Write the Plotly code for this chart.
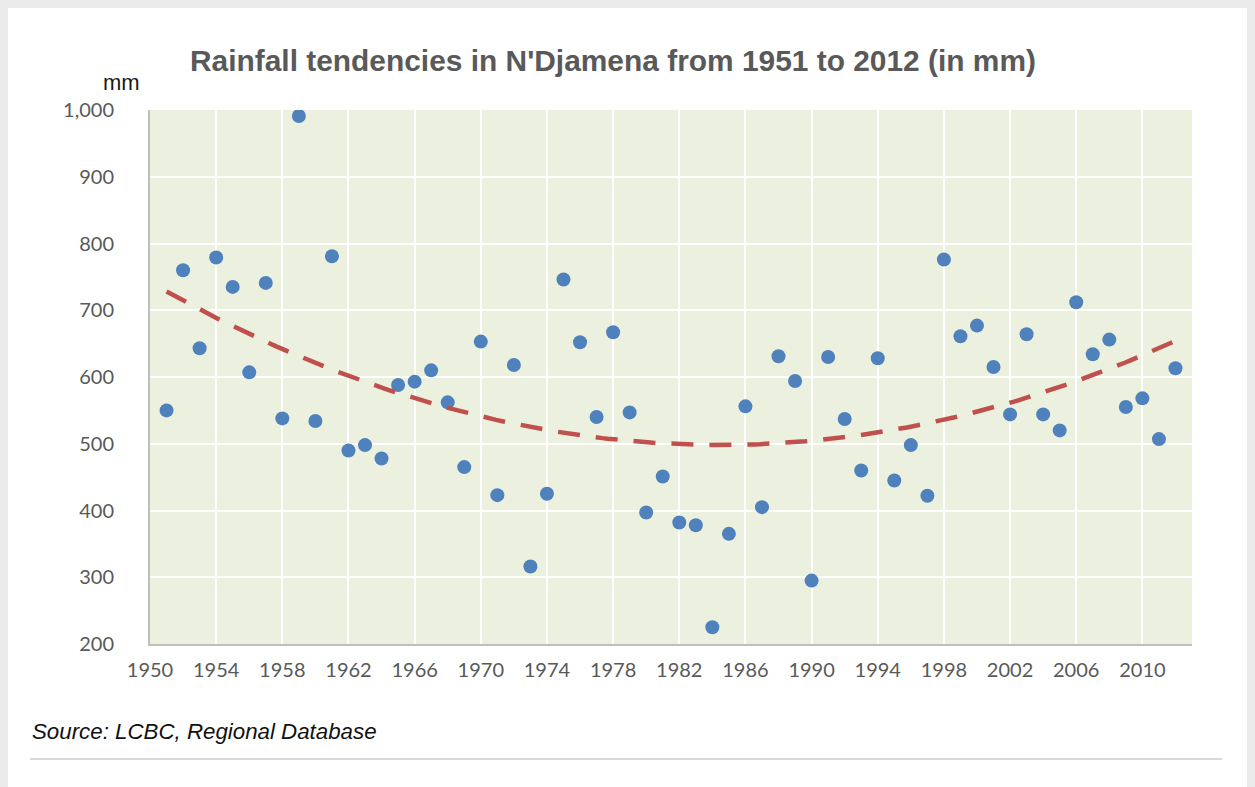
import numpy as np
import plotly.graph_objects as go

# Annual rainfall at N'Djamena (mm)
years = list(range(1951, 2013))
rainfall_mm = [
    550, 760, 643, 779, 735, 607, 741, 538, 991, 534,   # 1951-1960
    781, 490, 498, 478, 588, 593, 610, 562, 465, 653,   # 1961-1970
    423, 618, 316, 425, 746, 652, 540, 667, 547, 397,   # 1971-1980
    451, 382, 378, 225, 365, 556, 405, 631, 594, 295,   # 1981-1990
    630, 537, 460, 628, 445, 498, 422, 776, 661, 677,   # 1991-2000
    615, 544, 664, 544, 520, 712, 634, 656, 555, 568,   # 2001-2010
    507, 613,                                           # 2011-2012
]

x_tick_years = list(range(1950, 2011, 4))
y_ticks = list(range(200, 1001, 100))

title_text = "Rainfall tendencies in N'Djamena from 1951 to 2012 (in mm)"
unit_text = "mm"
source_text = "Source: LCBC, Regional Database"

# Second-order polynomial trend fitted to the annual series
coef = np.polyfit(years, rainfall_mm, 2)
trend_x = np.linspace(years[0], years[-1], 200)
trend_y = np.polyval(coef, trend_x)

W, H = 1255, 787
L, R, T, B = 150, 63, 110, 143
pw, ph = W - L - R, H - T - B


def px(X):
    return (X - L) / pw


def py(Y):
    return (H - B - Y) / ph


fig = go.Figure()

fig.add_trace(go.Scatter(
    x=years, y=rainfall_mm, mode="markers",
    marker=dict(color="#4f81bd", size=14, line=dict(width=0)),
    showlegend=False, hoverinfo="x+y",
))

fig.add_trace(go.Scatter(
    x=trend_x, y=trend_y, mode="lines",
    line=dict(color="#c0504d", width=4.5, dash="22px,16px"),
    showlegend=False, hoverinfo="skip",
))

shapes = [
    # white card on grey page
    dict(type="rect", xref="paper", yref="paper",
         x0=px(8), x1=px(1247), y0=py(800), y1=py(8),
         fillcolor="white", line=dict(width=0), layer="below"),
    # plot area fill
    dict(type="rect", xref="paper", yref="paper",
         x0=0, x1=1, y0=0, y1=1,
         fillcolor="#ebf1de", line=dict(width=0), layer="below"),
    # separator rule under the source note
    dict(type="line", xref="paper", yref="paper",
         x0=px(30), x1=px(1222), y0=py(759), y1=py(759),
         line=dict(color="#d9d9d9", width=2)),
]

annotations = [
    dict(text=f"<b>{title_text}</b>", xref="paper", yref="paper",
         x=px(612.5), y=py(60), xanchor="center", yanchor="middle",
         showarrow=False,
         font=dict(family="Liberation Sans, Arial, sans-serif", size=29.9, color="#595959")),
    dict(text=unit_text, xref="paper", yref="paper",
         x=px(121), y=py(82), xanchor="center", yanchor="middle",
         showarrow=False,
         font=dict(family="Liberation Sans, Arial, sans-serif", size=22, color="#1a1a1a")),
    dict(text=f"<i>{source_text}</i>", xref="paper", yref="paper",
         x=px(30), y=py(731), xanchor="left", yanchor="middle",
         showarrow=False,
         font=dict(family="Liberation Sans, Arial, sans-serif", size=22.3, color="#111111")),
]

tick_font = dict(family="Lato, sans-serif", size=20, color="#595959")

fig.update_layout(
    width=W, height=H,
    margin=dict(l=L, r=R, t=T, b=B),
    paper_bgcolor="#ebebeb",
    plot_bgcolor="rgba(0,0,0,0)",
    shapes=shapes,
    annotations=annotations,
    xaxis=dict(
        range=[1950, 2013], tickmode="array", tickvals=x_tick_years,
        ticktext=[str(v) for v in x_tick_years],
        showgrid=True, gridcolor="white", gridwidth=2,
        showline=True, linecolor="#bfbfbf", linewidth=2,
        zeroline=False, ticks="", tickfont=tick_font, ticklabelstandoff=7,
    ),
    yaxis=dict(
        range=[200, 1000], tickmode="array", tickvals=y_ticks,
        ticktext=[f"{v:,}" for v in y_ticks],
        showgrid=True, gridcolor="white", gridwidth=2,
        showline=True, linecolor="#bfbfbf", linewidth=2,
        zeroline=False, ticks="", tickfont=tick_font, ticklabelstandoff=30,
    ),
)

fig.write_html("out.html")
